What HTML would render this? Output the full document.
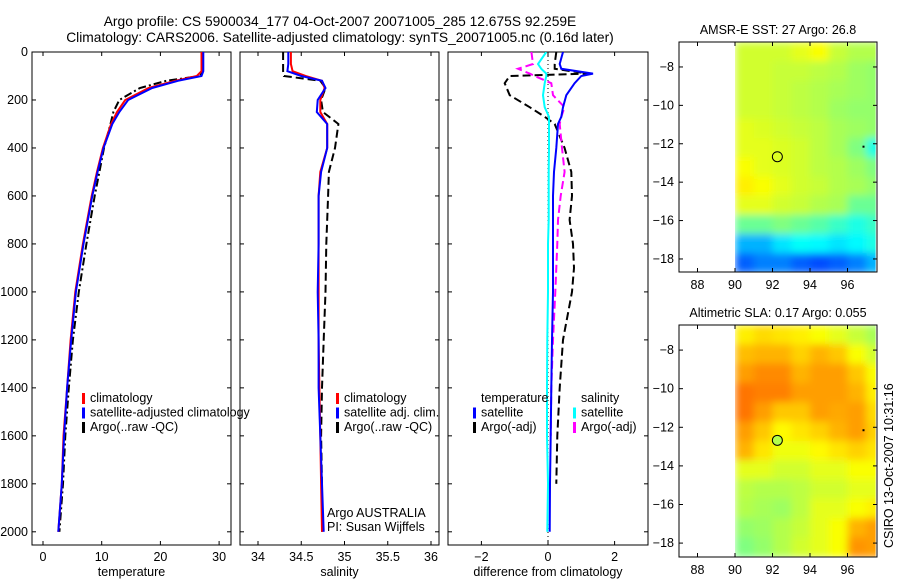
<!DOCTYPE html>
<html><head><meta charset="utf-8"><style>
body{margin:0;background:#fff;}
svg{display:block;font-family:"Liberation Sans",sans-serif;}
</style></head><body>
<svg id="fig" width="900" height="580" viewBox="0 0 900 580">
<defs>
<filter id="blur" x="0" y="0" width="1" height="1"><feGaussianBlur stdDeviation="4" edgeMode="duplicate"/></filter>
<clipPath id="c1"><rect x="32" y="52" width="199" height="493"/></clipPath>
<clipPath id="c2"><rect x="240" y="52" width="199" height="493"/></clipPath>
<clipPath id="c3"><rect x="448" y="52" width="200" height="493"/></clipPath>
</defs>
<text x="340" y="26" text-anchor="middle" font-size="13.8">Argo profile: CS 5900034_177 04-Oct-2007 20071005_285 12.675S 92.259E</text>
<text x="340" y="42" text-anchor="middle" font-size="13.8">Climatology: CARS2006. Satellite-adjusted climatology: synTS_20071005.nc (0.16d later)</text>
<text transform="translate(893,548) rotate(-90)" font-size="12.5">CSIRO 13-Oct-2007 10:31:16</text>
<g id="g"></g>
</svg>
<script>
// ---- profile data ----
const depthT = [0,50,80,100,120,150,200,250,300,400,500,600,800,1000,1200,1400,1600,1800,2000];
const tempClim = [27,27,27,26.2,22.5,18,14,12.6,11.6,10.2,9.2,8.3,6.8,5.5,4.7,4.1,3.5,3.2,2.6];
const tempSat  = [27.3,27.3,27.3,27,23,18.6,14.5,13,11.8,10.3,9.3,8.4,6.9,5.6,4.8,4.1,3.6,3.2,2.6];
const tempArgo = [27.2,27.2,27.2,26.8,21,16.5,13,12,11.5,10.4,9.6,8.8,7.4,6.1,5.1,4.4,3.8,3.4,2.8];
const salClim = [34.38,34.38,34.4,34.55,34.74,34.77,34.72,34.72,34.8,34.8,34.72,34.7,34.7,34.7,34.7,34.71,34.72,34.73,34.74];
const salSat  = [34.35,34.35,34.34,34.5,34.74,34.78,34.69,34.68,34.8,34.8,34.73,34.7,34.7,34.69,34.7,34.7,34.72,34.74,34.76];
const salArgo = [34.29,34.29,34.29,34.3,34.72,34.78,34.73,34.75,34.93,34.89,34.82,34.81,34.79,34.78,34.76,34.74,34.73,34.74,34.74];
const diffDepth = [0,50,70,90,100,130,180,230,270,300,400,500,600,700,800,900,1000,1200,1400,1600,1800,2000];
const dTempSat  = [0.45,0.35,0.4,1.35,1.0,0.8,0.55,0.45,0.4,0.3,0.25,0.18,0.15,0.15,0.15,0.15,0.15,0.12,0.1,0.08,0.06,0.05];
const dTempArgo = [0.25,0.2,0.2,1.2,-1.15,-1.3,-1.15,-0.55,-0.1,0.2,0.5,0.7,0.72,0.65,0.75,0.78,0.72,0.45,0.35,0.28,0.25,null];
const dSalSat   = [-0.05,-0.3,-0.2,-0.05,-0.05,-0.1,-0.15,-0.1,0.03,0.03,0.03,0.02,0.02,0.02,0.0,0.0,0.0,-0.02,-0.03,-0.03,0.0,-0.02];
const dSalArgo  = [-0.5,-0.45,-0.9,-0.55,-0.4,0.1,0.15,0.5,0.4,0.35,0.42,0.5,0.38,0.3,0.28,0.25,0.22,0.15,0.1,0.08,null,null];
// ---- map data (1-degree cells, 90..97.5E, from -6.7 southward), colormap fraction 0..1 ----
const mapLon = [90,91,92,93,94,95,96,97];
const sstGrid = [
[.58,.58,.58,.60,.62,.57,.55,.55],
[.58,.58,.57,.57,.56,.55,.53,.52],
[.58,.58,.57,.56,.55,.54,.53,.52],
[.58,.58,.57,.56,.55,.53,.52,.52],
[.60,.59,.58,.57,.56,.54,.53,.52],
[.60,.60,.59,.58,.56,.54,.50,.40],
[.62,.60,.59,.58,.56,.55,.53,.50],
[.64,.62,.60,.58,.57,.55,.54,.52],
[.60,.60,.58,.57,.55,.54,.48,.48],
[.48,.48,.50,.48,.46,.43,.40,.43],
[.30,.30,.35,.38,.37,.35,.37,.40],
[.22,.25,.25,.22,.20,.22,.25,.30]];
const slaGrid = [
[.64,.66,.65,.64,.62,.60,.57,.54],
[.69,.70,.70,.67,.70,.68,.62,.58],
[.72,.74,.74,.70,.72,.72,.68,.62],
[.76,.75,.75,.72,.72,.72,.70,.64],
[.76,.72,.68,.68,.72,.71,.72,.66],
[.72,.68,.63,.65,.67,.70,.72,.67],
[.70,.65,.61,.61,.63,.65,.67,.65],
[.60,.60,.58,.58,.60,.60,.62,.62],
[.56,.55,.55,.56,.58,.58,.60,.60],
[.55,.54,.53,.56,.60,.60,.62,.64],
[.52,.53,.55,.57,.60,.62,.70,.72],
[.50,.52,.55,.58,.60,.62,.73,.72]];
const argoLon = 92.259, argoLat = -12.675;

const NS='http://www.w3.org/2000/svg';
const G=document.getElementById('g');
function el(tag,attrs,parent){const e=document.createElementNS(NS,tag);for(const k in attrs)e.setAttribute(k,attrs[k]);(parent||G).appendChild(e);return e;}
function txt(x,y,s,attrs,parent){const t=el('text',Object.assign({x:x,y:y,'font-size':12.5},attrs||{}),parent);t.textContent=s;return t;}

const yD = d => 52 + d*0.2399;
function panel(x0,x1,name,ticks,xf,xlabel,tickFmt){
  const g=el('g',{});
  
  
  el('rect',{x:x0,y:52,width:x1-x0,height:493,fill:'none',stroke:'#000','stroke-width':1},g);
  ticks.forEach(v=>{const x=xf(v);
    el('line',{x1:x,x2:x,y1:52,y2:56,stroke:'#000'},g);
    el('line',{x1:x,x2:x,y1:545,y2:541,stroke:'#000'},g);
    txt(x,561,tickFmt(v),{'text-anchor':'middle'},g);});
  for(let d=0;d<=2000;d+=200){const y=yD(d);
    el('line',{x1:x0,x2:x0+4,y1:y,y2:y,stroke:'#000'},g);
    el('line',{x1:x1,x2:x1-4,y1:y,y2:y,stroke:'#000'},g);
    if(x0<40) txt(28,y+4,String(d),{'text-anchor':'end'},g);}
  txt((x0+x1)/2,576,xlabel,{'text-anchor':'middle'},g);
  return g;
}
const xT=v=>43+v*5.87, xS=v=>258+(v-34)*86.5, xDf=v=>548+v*33.3;
panel(32,231,'temperature-panel',[0,10,20,30],xT,'temperature',v=>String(v));
panel(240,439,'salinity-panel',[34,34.5,35,35.5,36],xS,'salinity',v=>String(v));
panel(448,648,'difference-panel',[-2,0,2],xDf,'difference from climatology',v=>v<0?'\u2212'+(-v):String(v));

function line(depths,vals,xf,color,dash,clip,name,w){
  let d='';let pen=false;
  depths.forEach((z,i)=>{const v=vals[i];if(v===null){pen=false;return;}
    d+=(pen?'L':'M')+xf(v).toFixed(1)+','+yD(z).toFixed(1);pen=true;});
  const p=el('path',{d:d,fill:'none',stroke:color,'stroke-width':w||2,'stroke-dasharray':dash||'none','clip-path':'url(#'+clip+')'});
  
  
}
line(depthT,tempArgo,xT,'#000','8,3,2,3','c1','temp-argo-line');
line(depthT,tempClim,xT,'#f00',null,'c1','temp-climatology-line');
line(depthT,tempSat,xT,'#00f',null,'c1','temp-satellite-line');
line(depthT,salArgo,xS,'#000','8,4','c2','sal-argo-line');
line(depthT,salClim,xS,'#f00',null,'c2','sal-climatology-line');
line(depthT,salSat,xS,'#00f',null,'c2','sal-satellite-line');
el('line',{x1:xDf(0),x2:xDf(0),y1:52,y2:545,stroke:'#000','stroke-dasharray':'1,3'});
line(diffDepth,dTempArgo,xDf,'#000','8,4','c3','dtemp-argo-line');
line(diffDepth,dSalArgo,xDf,'#f0f','8,4','c3','dsal-argo-line');
line(diffDepth,dSalSat,xDf,'#0ff',null,'c3','dsal-satellite-line');
line(diffDepth,dTempSat,xDf,'#00f',null,'c3','dtemp-satellite-line');

function legend(x,y,items,name){
  const g=el('g',{});
  
  
  items.forEach((it,i)=>{const yy=y+i*14.5;
    if(it[1]) el('rect',{x:x,y:yy-9,width:3,height:11,fill:it[1]},g);
    txt(x+8,yy,it[0],{},g);});
}
legend(82,402,[['climatology','#f00'],['satellite-adjusted climatology','#00f'],['Argo(..raw -QC)','#000']],'temp-legend');
legend(336,402,[['climatology','#f00'],['satellite adj. clim.','#00f'],['Argo(..raw -QC)','#000']],'sal-legend');
txt(327,517,'Argo AUSTRALIA',{});
txt(327,531,'PI: Susan Wijffels',{});
legend(473,402,[['temperature',null],['satellite','#00f'],['Argo(-adj)','#000']],'diff-temp-legend');
legend(573,402,[['salinity',null],['satellite','#0ff'],['Argo(-adj)','#f0f']],'diff-sal-legend');

function jet(v){const c=x=>Math.round(255*Math.max(0,Math.min(1,x)));
  const r=1.5-Math.abs(4*v-3), g=1.5-Math.abs(4*v-2), b=1.5-Math.abs(4*v-1);
  return 'rgb('+c(r)+','+c(g)+','+c(b)+')';}

function map(y0,y1,latTop,pxLat,grid,title,name,circleFill){
  const x0=679,x1=877;
  const xL=lon=>735+(lon-90)*18.75, yL=lat=>y0+(latTop-lat)*pxLat;
  const g=el('g',{});
  
  
  const cid='clip'+name;
  const cp=el('clipPath',{id:cid},g);
  el('rect',{x:xL(90),y:y0,width:xL(97.5)-xL(90),height:y1-y0},cp);
  const cells=el('g',{'clip-path':'url(#'+cid+')'},g);
  const inner=el('g',{filter:'url(#blur)'},cells);
  grid.forEach((row,i)=>row.forEach((v,j)=>{
    const r=el('rect',{x:xL(mapLon[j]),y:yL(latTop-i),width:18.75+1,height:pxLat+1,fill:jet(v)},inner);
    
    
  }));
  el('rect',{x:x0,y:y0,width:x1-x0,height:y1-y0,fill:'none',stroke:'#000'},g);
  [88,90,92,94,96].forEach(l=>{const x=xL(l);
    el('line',{x1:x,x2:x,y1:y0,y2:y0+4,stroke:'#000'},g);
    el('line',{x1:x,x2:x,y1:y1,y2:y1-4,stroke:'#000'},g);
    txt(x,y1+17,String(l),{'text-anchor':'middle'},g);});
  [-8,-10,-12,-14,-16,-18].forEach(l=>{const y=yL(l);
    el('line',{x1:x0,x2:x0+4,y1:y,y2:y,stroke:'#000'},g);
    el('line',{x1:x1,x2:x1-4,y1:y,y2:y,stroke:'#000'},g);
    txt(x0-5,y+4,'\u2212'+(-l),{'text-anchor':'end'},g);});
  el('circle',{cx:xL(argoLon),cy:yL(argoLat),r:5,fill:circleFill,stroke:'#000'},g);
  el('rect',{x:xL(96.8),y:yL(-12.1),width:2,height:2,fill:'#000'},g);
  txt((x0+x1)/2,y0-8,title,{'text-anchor':'middle'},g);
}
map(42,272,-6.7,19.2,sstGrid,'AMSR-E SST: 27 Argo: 26.8','sst-map','none');
map(325,557,-6.7,19.3,slaGrid,'Altimetric SLA: 0.17 Argo: 0.055','sla-map',jet(0.55));
</script>
</body></html>
